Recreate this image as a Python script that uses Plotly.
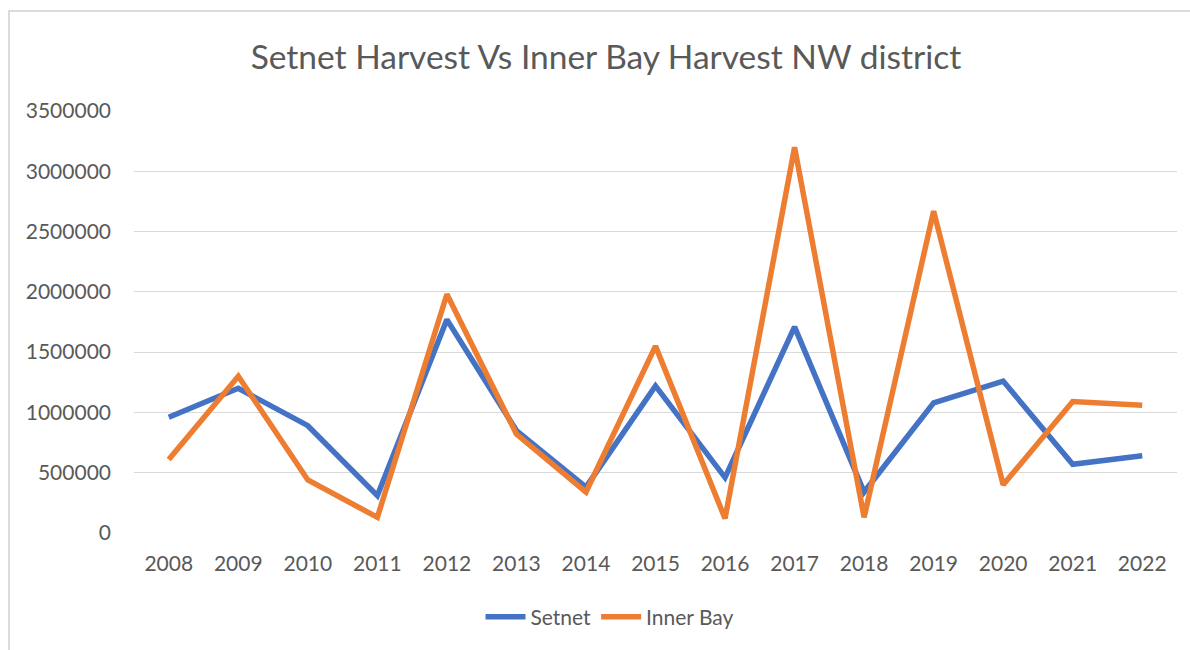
import plotly.graph_objects as go

years = [str(y) for y in range(2008, 2023)]
setnet = [960000, 1200000, 890000, 310000, 1770000, 850000, 380000, 1220000,
          460000, 1710000, 340000, 1080000, 1260000, 570000, 640000]
inner_bay = [610000, 1300000, 440000, 130000, 1980000, 820000, 340000, 1550000,
             120000, 3200000, 130000, 2670000, 400000, 1090000, 1060000]
y_ticks = [0, 500000, 1000000, 1500000, 2000000, 2500000, 3000000, 3500000]

FONT = "Lato"
GRAY = "#595959"

fig = go.Figure()
fig.add_trace(go.Scatter(x=years, y=setnet, mode="lines", name="Setnet",
                         line=dict(color="#4472C4", width=5.5)))
fig.add_trace(go.Scatter(x=years, y=inner_bay, mode="lines", name="Inner Bay",
                         line=dict(color="#ED7D31", width=5.5)))

W, H = 1190, 650
L, R, T, B = 134, 13, 111, 117
fig.update_layout(
    width=W, height=H,
    margin=dict(l=L, r=R, t=T, b=B),
    paper_bgcolor="white", plot_bgcolor="white",
    font=dict(family=FONT, color=GRAY, size=21),
    title=dict(text="Setnet Harvest Vs Inner Bay Harvest NW district",
               x=606 / W, xanchor="center", y=1 - 57 / H, yanchor="middle",
               font=dict(family=FONT, size=33.5, color=GRAY)),
    legend=dict(orientation="h", x=610 / W, xref="container", xanchor="center",
                y=1 - 617 / H, yref="container", yanchor="middle",
                font=dict(family=FONT, size=21, color=GRAY),
                itemwidth=40),
    showlegend=True,
    xaxis=dict(type="category", range=[-0.5, 14.5], showgrid=False,
               showline=False, zeroline=False, ticks="",
               tickfont=dict(family=FONT, size=21, color=GRAY),
               ticklabelstandoff=16),
    yaxis=dict(range=[0, 3500000], tickvals=y_ticks,
               ticktext=[str(v) for v in y_ticks],
               showgrid=True, gridcolor="#D9D9D9", gridwidth=1.3,
               zeroline=False, showline=False, ticks="",
               tickfont=dict(family=FONT, size=21, color=GRAY),
               ticklabelstandoff=22),
    shapes=[dict(type="rect", xref="paper", yref="paper",
                 x0=(9 - L) / (W - L - R), x1=(W + 20 - L) / (W - L - R),
                 y0=-(H + 20 - (H - B)) / (H - T - B), y1=1 + (T - 11) / (H - T - B),
                 line=dict(color="#D0D0D0", width=1.5), fillcolor="rgba(0,0,0,0)",
                 layer="below")],
)

fig.write_html("out.html")
